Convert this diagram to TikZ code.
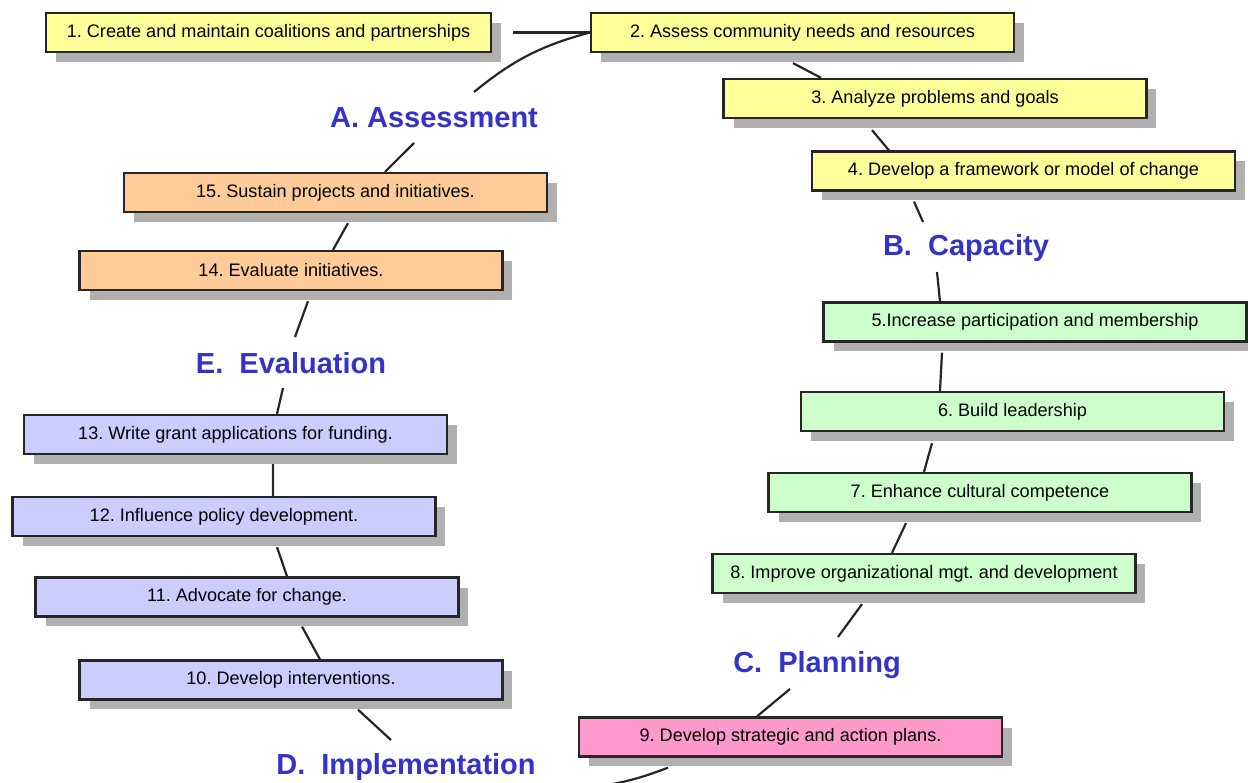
\documentclass[tikz,border=0pt]{standalone}
\usepackage{fontspec}
\setmainfont{Liberation Sans}
\usetikzlibrary{shadows}
\frenchspacing
\definecolor{assessfill}{HTML}{FFFF99}
\definecolor{capfill}{HTML}{CCFFCC}
\definecolor{planfill}{HTML}{FF99CC}
\definecolor{implfill}{HTML}{CCCCFF}
\definecolor{evalfill}{HTML}{FFCC99}
\definecolor{phaseblue}{HTML}{3333CC}
\definecolor{shade}{HTML}{B0B0B0}
\tikzset{
  task/.style={rectangle, draw=black!85, line width=1.3pt, minimum width=8.46cm, minimum height=0.78cm, inner sep=0pt, font=\fontsize{10.3}{12}\selectfont, drop shadow={shadow xshift=0.2cm, shadow yshift=-0.2cm, fill=shade, opacity=1}},
  assess/.style={task, fill=assessfill},
  capac/.style={task, fill=capfill},
  plan/.style={task, fill=planfill},
  impl/.style={task, fill=implfill},
  evalu/.style={task, fill=evalfill},
  phase/.style={text=phaseblue, font=\fontsize{16.5}{20}\selectfont\bfseries, inner sep=2pt},
  link/.style={line width=1.25pt, black!85},
}
\begin{document}
\begin{tikzpicture}[x=0.02cm, y=-0.02cm]
\useasboundingbox (0,0) rectangle (1248,783);
% phases
\node[phase] (labA) at (434,118) {A. Assessment};
\node[phase] (labB) at (966,248) {B.\ \ Capacity};
\node[phase] (labC) at (817,665) {C.\ \ Planning};
\node[phase] (labD) at (406,767) {D.\ \ Implementation};
\node[phase] (labE) at (291,363) {E.\ \ Evaluation};
% tasks
\node[assess, minimum width=8.9cm] (n1) at (268.5,32.5) {1. Create and maintain coalitions and partnerships};
\node[assess] (n2) at (802.5,32.5) {2. Assess community needs and resources};
\node[assess] (n3) at (935,98.5) {3. Analyze problems and goals};
\node[assess] (n4) at (1023.5,171) {4. Develop a framework or model of change};
\node[capac] (n5) at (1035,322) {5.Increase participation and membership};
\node[capac] (n6) at (1012.5,411.5) {6. Build leadership};
\node[capac] (n7) at (980,492.5) {7. Enhance cultural competence};
\node[capac] (n8) at (924,573.5) {8. Improve organizational mgt. and development};
\node[plan] (n9) at (790.5,737) {9. Develop strategic and action plans.};
\node[impl] (n10) at (291,680) {10. Develop interventions.};
\node[impl] (n11) at (247,597) {11. Advocate for change.};
\node[impl] (n12) at (224,516.5) {12. Influence policy development.};
\node[impl] (n13) at (235.5,434.5) {13. Write grant applications for funding.};
\node[evalu] (n14) at (291,270.5) {14. Evaluate initiatives.};
\node[evalu] (n15) at (335.5,192.5) {15. Sustain projects and initiatives.};
\coordinate (dEnd) at (608,785);
% the cycle
\draw[link] ([shift={(21,0)}]n1.east) -- (n2.west);
\draw[link] (n2.west) to[bend right=12] ([shift={(40,-26)}]labA.center);
\draw[link] ([shift={(-9.5,10)}]n2.south) -- ([shift={(-114,0)}]n3.north);
\draw[link] ([shift={(-63,11)}]n3.south) -- ([shift={(-134.5,0)}]n4.north);
\draw[link] ([shift={(-109.5,10)}]n4.south) -- ([shift={(-43,-26)}]labB.center);
\draw[link] ([shift={(-29,24)}]labB.center) -- ([shift={(-95,0)}]n5.north);
\draw[link] ([shift={(-93,10)}]n5.south) -- ([shift={(-72.5,0)}]n6.north);
\draw[link] ([shift={(-80.5,11)}]n6.south) -- ([shift={(-56,0)}]n7.north);
\draw[link] ([shift={(-74,10)}]n7.south) -- ([shift={(-32,0)}]n8.north);
\draw[link] ([shift={(-62,10)}]n8.south) -- ([shift={(21,-28)}]labC.center);
\draw[link] ([shift={(-27,24)}]labC.center) -- ([shift={(-33.5,0)}]n9.north);
\draw[link] ([shift={(-122.5,10)}]n9.south) to[bend left=5] (dEnd);
\draw[link] ([shift={(-15,-27)}]labD.center) -- ([shift={(67,9)}]n10.south);
\draw[link] ([shift={(29,0)}]n10.north) -- ([shift={(55,9)}]n11.south);
\draw[link] ([shift={(40,0)}]n11.north) -- ([shift={(53,10)}]n12.south);
\draw[link] ([shift={(49,0)}]n12.north) -- ([shift={(37.5,9)}]n13.south);
\draw[link] ([shift={(41.5,0)}]n13.north) -- ([shift={(-8,25)}]labE.center);
\draw[link] ([shift={(4,-26)}]labE.center) -- ([shift={(17,10)}]n14.south);
\draw[link] ([shift={(42,0)}]n14.north) -- ([shift={(12.5,10)}]n15.south);
\draw[link] ([shift={(49.5,0)}]n15.north) -- ([shift={(-20,25)}]labA.center);
\end{tikzpicture}
\end{document}
